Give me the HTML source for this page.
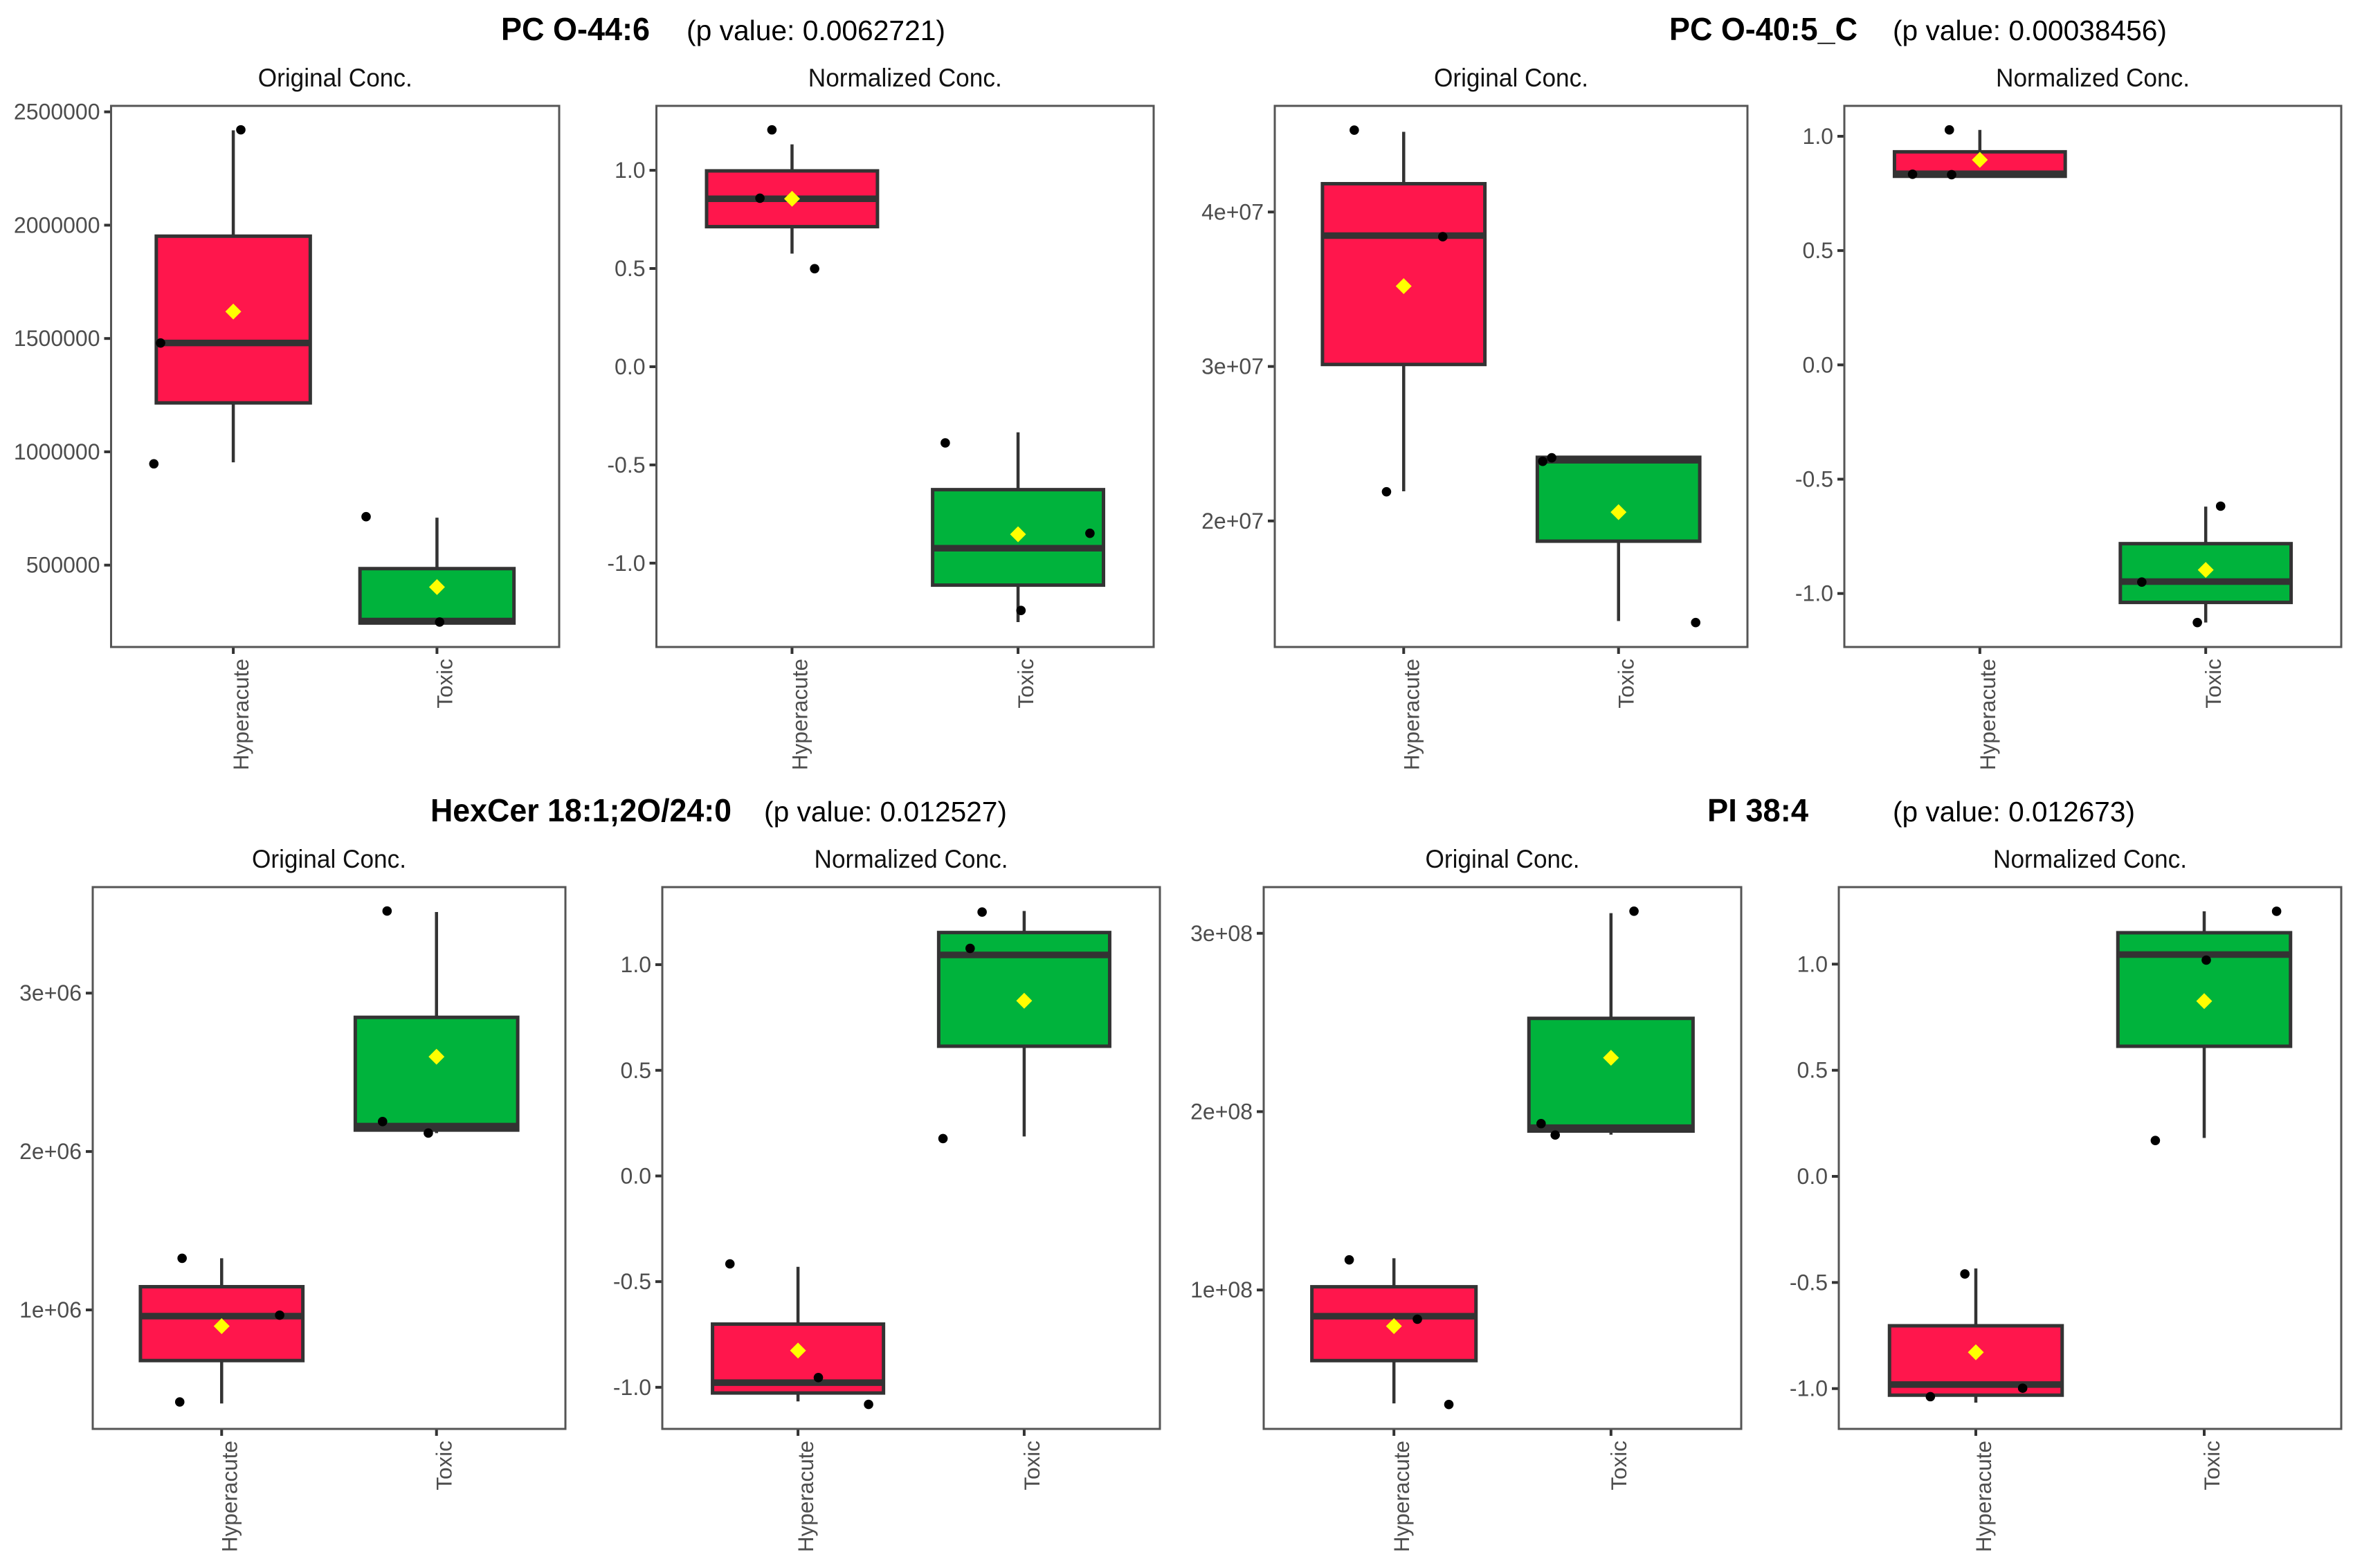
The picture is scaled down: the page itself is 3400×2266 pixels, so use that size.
<!DOCTYPE html>
<html lang="en">
<head>
<meta charset="utf-8">
<title>Lipid box plots</title>
<style>
html,body{margin:0;padding:0;background:#fff;width:3400px;height:2266px;overflow:hidden}
svg{display:block}
text{font-family:"Liberation Sans",sans-serif}
</style>
</head>
<body>
<svg id="fig" xmlns="http://www.w3.org/2000/svg" width="3400" height="2266" viewBox="0 0 3400 2266">
<rect x="0" y="0" width="3400" height="2266" fill="#ffffff"/>
<text x="724" y="58" font-size="46" font-weight="bold" textLength="215" lengthAdjust="spacingAndGlyphs" fill="#000">PC O-44:6</text>
<text x="992" y="58" font-size="41" textLength="374" lengthAdjust="spacingAndGlyphs" fill="#000">(p value: 0.0062721)</text>
<text x="2412" y="58" font-size="46" font-weight="bold" textLength="272" lengthAdjust="spacingAndGlyphs" fill="#000">PC O-40:5_C</text>
<text x="2735" y="58" font-size="41" textLength="396" lengthAdjust="spacingAndGlyphs" fill="#000">(p value: 0.00038456)</text>
<text x="622" y="1187" font-size="46" font-weight="bold" textLength="435" lengthAdjust="spacingAndGlyphs" fill="#000">HexCer 18:1;2O/24:0</text>
<text x="1104" y="1187" font-size="41" textLength="351" lengthAdjust="spacingAndGlyphs" fill="#000">(p value: 0.012527)</text>
<text x="2467" y="1187" font-size="46" font-weight="bold" textLength="146" lengthAdjust="spacingAndGlyphs" fill="#000">PI 38:4</text>
<text x="2735" y="1187" font-size="41" textLength="350" lengthAdjust="spacingAndGlyphs" fill="#000">(p value: 0.012673)</text>
</svg>
<script>
const categories = ['Hyperacute', 'Toxic'];
const boxFills = ['#ff164c', '#00b33c'];

// PC O-44:6 original
const a1Domain = [138800, 2526400];
const a1Ticks = [500000, 1000000, 1500000, 2000000, 2500000];
const a1TickLabels = ['500000', '1000000', '1500000', '2000000', '2500000'];
const a1Box = [[953800, 1215900, 1480200, 1951500, 2418500], [244500, 244500, 253300, 484600, 709300]];
const a1Mean = [1618900, 403100];
const a1PointValues = [[2420700, 1480200, 947100], [713700, 248900]];
const a1PointJitter = [[0.037, -0.357, -0.39], [-0.348, 0.013]];

// PC O-44:6 normalized
const a2Domain = [-1.427, 1.328];
const a2Ticks = [-1, -0.5, 0, 0.5, 1];
const a2TickLabels = ['-1.0', '-0.5', '0.0', '0.5', '1.0'];
const a2Box = [[0.576, 0.713, 0.855, 0.997, 1.132], [-1.30, -1.112, -0.924, -0.626, -0.334]];
const a2Mean = [0.855, -0.853];
const a2PointValues = [[1.206, 0.858, 0.499], [-0.388, -0.848, -1.241]];
const a2PointJitter = [[-0.089, -0.142, 0.1], [-0.322, 0.318, 0.013]];

// PC O-40:5_C original
const b1Domain = [11840000, 46870000];
const b1Ticks = [20000000, 30000000, 40000000];
const b1TickLabels = ['2e+07', '3e+07', '4e+07'];
const b1Box = [[21920000, 30130000, 38470000, 41830000, 45190000], [13520000, 18690000, 23930000, 24120000, 24200000]];
const b1Mean = [35200000, 20570000];
const b1PointValues = [[45300000, 38400000, 21890000], [23860000, 24090000, 13420000]];
const b1PointJitter = [[-0.23, 0.182, -0.08], [-0.353, -0.311, 0.359]];

// PC O-40:5_C normalized
const b2Domain = [-1.234, 1.133];
const b2Ticks = [-1, -0.5, 0, 0.5, 1];
const b2TickLabels = ['-1.0', '-0.5', '0.0', '0.5', '1.0'];
const b2Box = [[0.825, 0.825, 0.836, 0.932, 1.028], [-1.127, -1.039, -0.948, -0.782, -0.62]];
const b2Mean = [0.897, -0.897];
const b2PointValues = [[1.028, 0.834, 0.832], [-0.618, -0.95, -1.127]];
const b2PointJitter = [[-0.135, -0.298, -0.125], [0.066, -0.283, -0.037]];

// HexCer original
const c1Domain = [248800, 3669300];
const c1Ticks = [1000000, 2000000, 3000000];
const c1TickLabels = ['1e+06', '2e+06', '3e+06'];
const c1Box = [[409500, 680300, 960600, 1146500, 1326000], [2116500, 2135400, 2160600, 2847200, 3511800]];
const c1Mean = [897600, 2598400];
const c1PointValues = [[1326000, 966900, 418900], [3518100, 2189000, 2116500]];
const c1PointJitter = [[-0.184, 0.27, -0.195], [-0.23, -0.251, -0.038]];

// HexCer normalized
const c2Domain = [-1.197, 1.367];
const c2Ticks = [-1, -0.5, 0, 0.5, 1];
const c2TickLabels = ['-1.0', '-0.5', '0.0', '0.5', '1.0'];
const c2Box = [[-1.067, -1.027, -0.978, -0.701, -0.43], [0.187, 0.614, 1.046, 1.152, 1.254]];
const c2Mean = [-0.826, 0.829];
const c2PointValues = [[-0.416, -0.954, -1.081], [0.177, 1.077, 1.249]];
const c2PointJitter = [[-0.301, 0.09, 0.312], [-0.359, -0.239, -0.186]];

// PI 38:4 original
const d1Domain = [22100000, 325900000];
const d1Ticks = [100000000, 200000000, 300000000];
const d1TickLabels = ['1e+08', '2e+08', '3e+08'];
const d1Box = [[36400000, 60400000, 85300000, 101800000, 117800000], [187100000, 189100000, 191000000, 252300000, 311300000]];
const d1Mean = [79700000, 230200000];
const d1PointValues = [[116900000, 83600000, 35800000], [312400000, 193300000, 186900000]];
const d1PointJitter = [[-0.206, 0.108, 0.253], [0.106, -0.322, -0.257]];

// PI 38:4 normalized
const d2Domain = [-1.19, 1.363];
const d2Ticks = [-1, -0.5, 0, 0.5, 1];
const d2TickLabels = ['-1.0', '-0.5', '0.0', '0.5', '1.0'];
const d2Box = [[-1.066, -1.031, -0.981, -0.704, -0.434], [0.181, 0.613, 1.045, 1.148, 1.249]];
const d2Mean = [-0.829, 0.826];
const d2PointValues = [[-0.46, -0.998, -1.038], [0.169, 1.019, 1.249]];
const d2PointJitter = [[-0.048, 0.205, -0.199], [-0.214, 0.009, 0.317]];

const svg = document.getElementById('fig');
const NS = 'http://www.w3.org/2000/svg';

function mk(parent, tag, attrs, text) {
  const el = document.createElementNS(NS, tag);
  for (const k in attrs) el.setAttribute(k, attrs[k]);
  if (text !== undefined) el.textContent = text;
  parent.appendChild(el);
  return el;
}

function drawPanel(id, title, titleLength, rect, domain, ticks, tickLabels, box, mean, pointValues, pointJitter) {
  const left = rect.left, right = rect.right, top = rect.top, bottom = rect.bottom;
  const g = mk(svg, 'g', {});
  
  

  const y = v => bottom - (v - domain[0]) / (domain[1] - domain[0]) * (bottom - top);
  const unit = (right - left) / 2.2;
  const x = c => left + (c + 0.6) * unit;
  const boxHalf = 0.378 * unit;

  const sub = mk(g, 'text', {x: (left + right) / 2, y: top - 28, 'font-size': 37, 'text-anchor': 'middle', fill: '#111', textLength: titleLength, lengthAdjust: 'spacingAndGlyphs'}, title);
  
  

  ticks.forEach((t, i) => {
    const tick = mk(g, 'line', {x1: left - 10, x2: left, y1: y(t), y2: y(t), stroke: '#333', 'stroke-width': 4});
    
    
    const lab = mk(g, 'text', {x: left - 16, y: y(t) + 11, 'font-size': 32, 'text-anchor': 'end', fill: '#4d4d4d'}, tickLabels[i]);
    
    
  });

  categories.forEach((cat, c) => {
    const cx = x(c);
    const [lo, q1, med, q3, hi] = box[c];

    const tick = mk(g, 'line', {x1: cx, x2: cx, y1: bottom, y2: bottom + 10, stroke: '#333', 'stroke-width': 4});
    
    
    const lab = mk(g, 'text', {transform: 'translate(' + (cx + 22) + ',' + (bottom + 17) + ') rotate(-90)', x: 0, y: 0, 'font-size': 31.5, 'text-anchor': 'end', fill: '#4d4d4d'}, cat);
    
    

    const whisker = mk(g, 'line', {x1: cx, x2: cx, y1: y(hi), y2: y(lo), stroke: '#333', 'stroke-width': 4.5});
    
    
    const rc = mk(g, 'rect', {x: cx - boxHalf, y: y(q3), width: 2 * boxHalf, height: y(q1) - y(q3), fill: boxFills[c], stroke: '#333', 'stroke-width': 5});
    
    
    const ml = mk(g, 'line', {x1: cx - boxHalf, x2: cx + boxHalf, y1: y(med), y2: y(med), stroke: '#333', 'stroke-width': 9.5});
    
    

    pointValues[c].forEach((v, i) => {
      const pt = mk(g, 'circle', {cx: cx + pointJitter[c][i] * unit, cy: y(v), r: 6.8, fill: '#000'});
      
      
    });

    const my = y(mean[c]);
    const d = mk(g, 'polygon', {points: [cx, my - 11.5, cx + 11.5, my, cx, my + 11.5, cx - 11.5, my].join(' '), fill: '#ffff00'});
    
    
  });

  const frame = mk(g, 'rect', {x: left, y: top, width: right - left, height: bottom - top, fill: 'none', stroke: '#555', 'stroke-width': 3});
  
  
}

const ORIG = 'Original Conc.', NORM = 'Normalized Conc.';
const ORIG_LEN = 223, NORM_LEN = 280;
drawPanel('pc-o-44-6-original', ORIG, ORIG_LEN, {left: 160.5, right: 808, top: 153, bottom: 935}, a1Domain, a1Ticks, a1TickLabels, a1Box, a1Mean, a1PointValues, a1PointJitter);
drawPanel('pc-o-44-6-normalized', NORM, NORM_LEN, {left: 948.5, right: 1667, top: 153, bottom: 935}, a2Domain, a2Ticks, a2TickLabels, a2Box, a2Mean, a2PointValues, a2PointJitter);
drawPanel('pc-o-40-5-c-original', ORIG, ORIG_LEN, {left: 1842, right: 2525, top: 153, bottom: 935}, b1Domain, b1Ticks, b1TickLabels, b1Box, b1Mean, b1PointValues, b1PointJitter);
drawPanel('pc-o-40-5-c-normalized', NORM, NORM_LEN, {left: 2665, right: 3383, top: 153, bottom: 935}, b2Domain, b2Ticks, b2TickLabels, b2Box, b2Mean, b2PointValues, b2PointJitter);
drawPanel('hexcer-original', ORIG, ORIG_LEN, {left: 134, right: 817, top: 1282, bottom: 2065}, c1Domain, c1Ticks, c1TickLabels, c1Box, c1Mean, c1PointValues, c1PointJitter);
drawPanel('hexcer-normalized', NORM, NORM_LEN, {left: 957, right: 1676, top: 1282, bottom: 2065}, c2Domain, c2Ticks, c2TickLabels, c2Box, c2Mean, c2PointValues, c2PointJitter);
drawPanel('pi-38-4-original', ORIG, ORIG_LEN, {left: 1826, right: 2516, top: 1282, bottom: 2065}, d1Domain, d1Ticks, d1TickLabels, d1Box, d1Mean, d1PointValues, d1PointJitter);
drawPanel('pi-38-4-normalized', NORM, NORM_LEN, {left: 2657, right: 3383, top: 1282, bottom: 2065}, d2Domain, d2Ticks, d2TickLabels, d2Box, d2Mean, d2PointValues, d2PointJitter);
</script>
</body>
</html>
